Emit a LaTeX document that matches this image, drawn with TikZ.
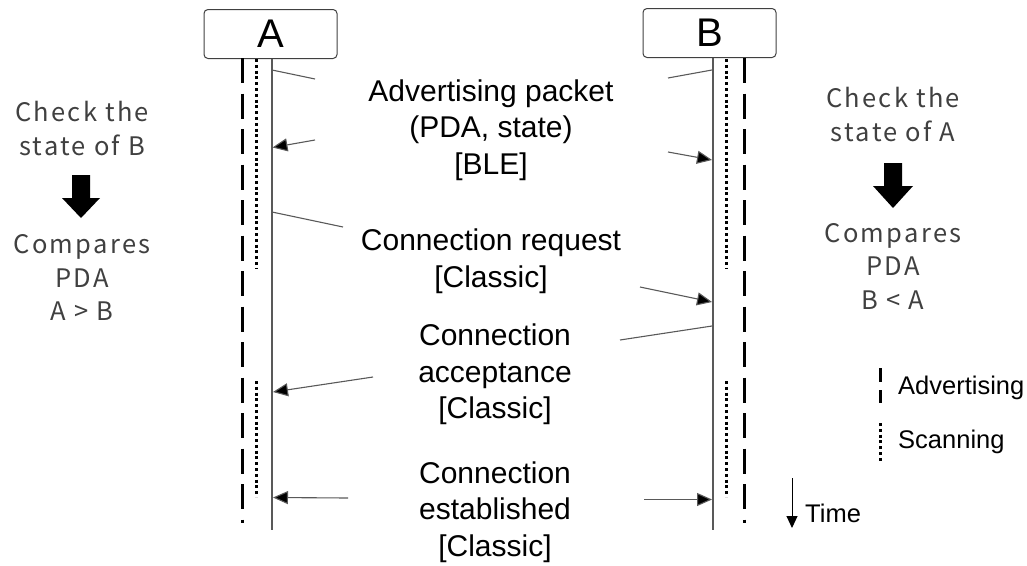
\documentclass[tikz,border=0pt]{standalone}
\usepackage{fontspec}
\setmainfont{Liberation Sans}
\newfontfamily\notefont{Noto Sans CJK JP}[LetterSpace=9]
\usetikzlibrary{arrows.meta}

\begin{document}
\begin{tikzpicture}[x=1pt,y=-1pt,
  actor/.style={draw=black!75, rounded corners=4pt, line width=1pt,
    minimum width=133pt, minimum height=49pt, inner sep=0pt,
    font=\fontsize{40}{40}\selectfont},
  lifeline/.style={draw=black!65, line width=1.1pt},
  advline/.style={line width=3pt, dash pattern=on 25pt off 10.5pt},
  scanline/.style={line width=3pt, dash pattern=on 3pt off 2.8pt},
  msg/.style={draw=black!65, line width=1.1pt},
  msgarrow/.style={msg, -{Triangle[length=15pt,width=13pt,fill=black]}},
  label/.style={align=center, inner sep=0pt, font=\fontsize{30}{36.5}\selectfont},
  note/.style={align=center, inner sep=0pt, text=black!75,
    font=\notefont\fontsize{25.5}{33.5}\selectfont},
  legend/.style={anchor=west, inner sep=0pt, font=\fontsize{25.5}{25.5}\selectfont},
]
\useasboundingbox (0,0) rectangle (1027,565);

% participants
\node[actor] (A) at (270.5,34) {A};
\node[actor] (B) at (709.5,33) {B};
\coordinate (Aend) at (272,530);
\coordinate (Bend) at (713,530);
\draw[lifeline] (A.south -| Aend) -- (Aend);
\draw[lifeline] (B.south -| Bend) -- (Bend);

% advertising / scanning activity of A
\draw[advline] (242,58) -- (242,523);
\draw[scanline] (256.5,59) -- (256.5,269);
\draw[scanline] (256.5,381) -- (256.5,497);
% advertising / scanning activity of B
\draw[advline] (744,58) -- (744,523);
\draw[scanline] (726,59) -- (726,269);
\draw[scanline] (726,381) -- (726,497);

% advertising packets
\coordinate (a1) at (272,70);   \coordinate (a1e) at (315,79);
\coordinate (b1) at (712,70);   \coordinate (b1e) at (668,78);
\coordinate (a2s) at (315,140); \coordinate (a2) at (272.5,147.5);
\coordinate (b2s) at (668,152); \coordinate (b2) at (712,160);
\draw[msg] (a1) -- (a1e);
\draw[msg] (b1) -- (b1e);
\draw[msgarrow] (a2s) -- (a2);
\draw[msgarrow] (b2s) -- (b2);

% connection request
\coordinate (a3) at (272,212);  \coordinate (a3e) at (343,227);
\coordinate (b3s) at (640,287); \coordinate (b3) at (712,302);
\draw[msg] (a3) -- (a3e);
\draw[msgarrow] (b3s) -- (b3);

% connection acceptance
\coordinate (b4) at (712,326);  \coordinate (b4e) at (620,340);
\coordinate (a4s) at (373,377); \coordinate (a4) at (273,392);
\draw[msg] (b4) -- (b4e);
\draw[msgarrow] (a4s) -- (a4);

% connection established
\coordinate (a5s) at (348,498); \coordinate (a5) at (273,497.5);
\coordinate (b5s) at (644,499.5); \coordinate (b5) at (712,499.5);
\draw[msgarrow] (a5s) -- (a5);
\draw[msgarrow] (b5s) -- (b5);

% message labels
\node[label] (m1) at (491,130) {Advertising packet\\(PDA, state)\\{}[BLE]};
\node[label] (m2) at (491,261) {Connection request\\{}[Classic]};
\node[label] (m3) at (495,374.5) {Connection\\acceptance\\{}[Classic]};
\node[label] (m4) at (495,512) {Connection\\established\\{}[Classic]};

% decisions at A
\node[note] (na1) at (82,128.5) {Check the\\state of B};
\node[note] (na2) at (82,277.5) {Compares\\PDA\\A > B};
\fill (72,175) -- (90,175) -- (90,198) -- (100,198) -- (81,218) -- (62,198) -- (72,198) -- cycle;

% decisions at B
\node[note] (nb1) at (893,114.5) {Check the\\state of A};
\node[note] (nb2) at (893,266) {Compares\\PDA\\B < A};
\fill (884,163) -- (902,163) -- (902,186) -- (913,186) -- (893,208) -- (873,186) -- (884,186) -- cycle;

% legend
\draw[line width=3pt, dash pattern=on 14pt off 8pt] (880,368) -- (880,403);
\draw[scanline] (880,423) -- (880,461);
\node[legend] (ladv) at (898,388) {Advertising};
\node[legend] (lscan) at (898,442) {Scanning};
\coordinate (t0) at (792,478);
\coordinate (t1) at (792,528);
\draw[line width=1pt, -{Triangle[length=12pt,width=11pt]}] (t0) -- (t1);
\node[legend] (ltime) at (805,513) {Time};
\end{tikzpicture}
\end{document}
